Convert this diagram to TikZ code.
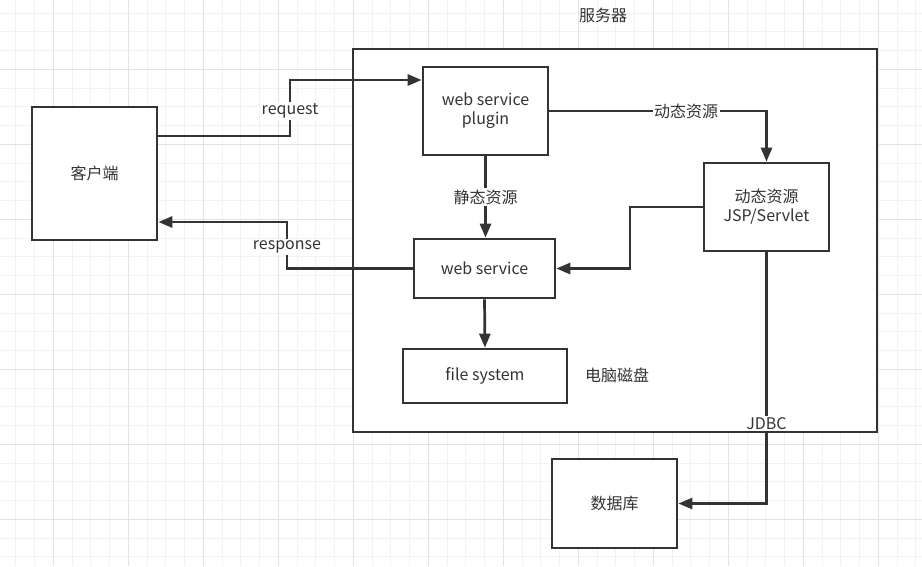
\documentclass[tikz,border=0pt]{standalone}
\usepackage{fontspec}
\setmainfont{Noto Sans CJK SC}
\usetikzlibrary{arrows.meta}
\definecolor{linec}{HTML}{333333}
\definecolor{gridmin}{HTML}{F2F2F2}
\definecolor{gridmaj}{HTML}{E2E2E2}
\begin{document}
\begin{tikzpicture}[x=1pt,y=-1pt,>={Triangle[length=14pt,width=11pt]},
	font=\fontsize{16}{19}\selectfont,
	box/.style={draw=linec,line width=2.7pt,fill=white,inner sep=0pt,align=center,text=linec},
	arr/.style={draw=linec,line width=2.7pt,->},
	lbl/.style={fill=white,inner sep=1.5pt,text=linec}]
	\useasboundingbox (0,0) rectangle (922,566);
	\fill[white] (0,0) rectangle (922,566);
	% grid
	\foreach \i in {1,...,49} \draw[gridmin,line width=1pt] ({-2.95+18.75*\i},0) -- ({-2.95+18.75*\i},566);
	\foreach \i in {0,...,29} \draw[gridmin,line width=1pt] (0,{13.05+18.75*\i}) -- (922,{13.05+18.75*\i});
	\foreach \i in {0,...,11} \draw[gridmaj,line width=1pt] ({53.3+75*\i},0) -- ({53.3+75*\i},566);
	\foreach \i in {0,...,6} \draw[gridmaj,line width=1pt] (0,{69.3+75*\i}) -- (922,{69.3+75*\i});
	% boxes
	\node[box,minimum width=524pt,minimum height=383pt] (server) at (615,240.5) {};
	\node[text=linec] (title) at (603,15) {服务器};
	\node[box,minimum width=125pt,minimum height=133pt] (client) at (94.5,173.5) {客户端};
	\node[box,minimum width=125pt,minimum height=88pt] (plugin) at (485.5,111) {web service\\plugin};
	\node[box,minimum width=125pt,minimum height=88pt] (jsp) at (766.5,207) {动态资源\\JSP/Servlet};
	\node[box,minimum width=141pt,minimum height=59pt] (websvc) at (484.5,268.5) {web service};
	\node[box,minimum width=164pt,minimum height=54pt] (fs) at (485,376) {file system};
	\node[text=linec] (disk) at (617,375) {电脑磁盘};
	\node[box,minimum width=125pt,minimum height=89pt] (db) at (614.5,503.5) {数据库};
	% connectors
	\draw[arr] (client.east |- 0,136) -- (290,136) -- node[lbl,pos=0.45]{request} (290,80) -- (plugin.west |- 0,80);
	\draw[arr] (plugin.east) -- node[lbl,pos=0.63]{动态资源} (jsp.north |- plugin.east) -- (jsp.north);
	\draw[arr] (plugin.south) -- node[lbl]{静态资源} (plugin.south |- websvc.north);
	\draw[arr] (jsp.west) -- (630,207) -- (630,268.5) -- (websvc.east);
	\draw[arr] (websvc.west) -- (287,268.5) -- node[lbl,pos=0.46]{response} (287,222) -- (client.east |- 0,222);
	\draw[arr] (websvc.south) -- (fs.north);
	\draw[arr] (jsp.south) -- node[lbl,pos=0.68]{JDBC} (jsp.south |- db.east) -- (db.east);
\end{tikzpicture}
\end{document}
